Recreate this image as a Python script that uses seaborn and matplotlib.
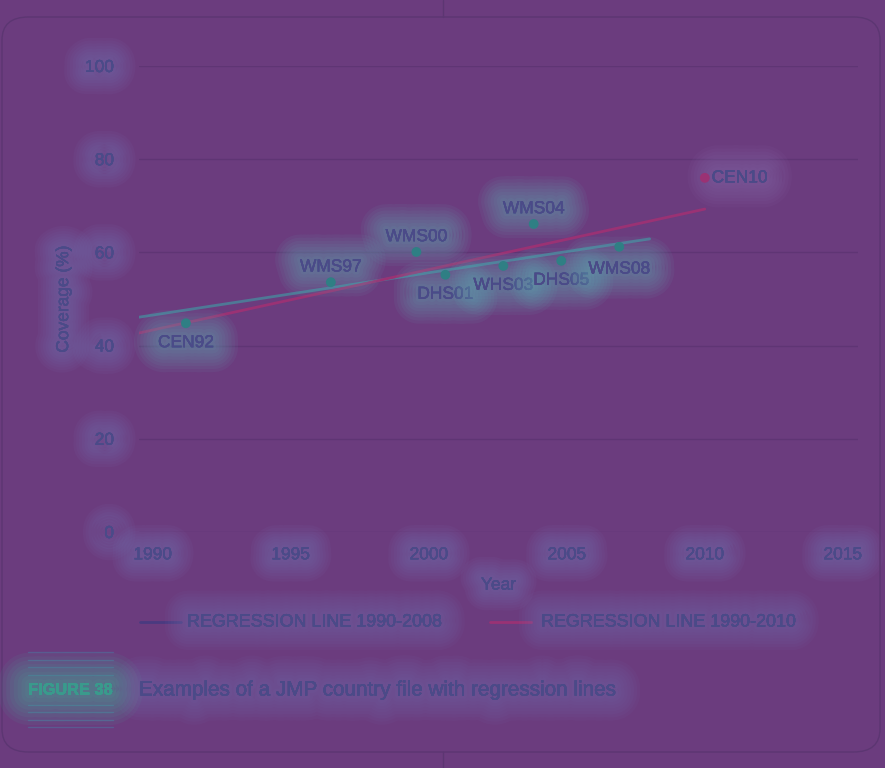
import matplotlib
matplotlib.use("Agg")
import matplotlib.patheffects as pe
import numpy as np
import pandas as pd
import seaborn as sns
from matplotlib import pyplot as plt
from matplotlib.patches import FancyBboxPatch

# Survey points
surveys = ["CEN92", "WMS97", "WMS00", "DHS01", "WHS03", "WMS04", "DHS05", "WMS08", "CEN10"]
years = [1991.2, 1996.45, 1999.55, 2000.6, 2002.7, 2003.8, 2004.8, 2006.9, 2010.0]
coverage = [44.8, 53.6, 60.1, 55.2, 57.1, 66.1, 58.2, 61.2, 76.0]

# Regression line end points
reg_2008_years = [1989.5, 2008.0]
reg_2008_cov = [46.1, 62.9]
reg_2010_years = [1989.5, 2010.0]
reg_2010_cov = [42.7, 69.3]

x_ticks = [1990, 1995, 2000, 2005, 2010, 2015]
y_ticks = [0, 20, 40, 60, 80, 100]

BG = "#6b3c7e"
TXT = "#4b4a88"
GRID = "#5f3574"
C2008 = "#4f7896"
C2010 = "#9a3274"
PT = "#2f7f84"
HALO = "#7a78b8"

sns.set_theme(style="white")
plt.rcParams["font.family"] = ["Liberation Sans", "DejaVu Sans"]


def glow(color, width=22, steps=8, alpha=0.07):
    effects = []
    for i in range(steps):
        w = width * (1 - i / steps)
        effects.append(pe.withStroke(linewidth=w, foreground=color, alpha=alpha))
    effects.append(pe.Normal())
    return effects


fig = plt.figure(figsize=(8.85, 7.68), dpi=100, facecolor=BG)
ax = fig.add_axes([139 / 885, 1 - 532 / 768, 719 / 885, 466 / 768])
ax.set_facecolor(BG)

df = pd.DataFrame({"survey": surveys, "year": years, "coverage": coverage})
df["group"] = np.where(df["survey"] == "CEN10", "new", "old")

sns.lineplot(x=reg_2008_years, y=reg_2008_cov, ax=ax, color=C2008, lw=2)
sns.lineplot(x=reg_2010_years, y=reg_2010_cov, ax=ax, color=C2010, lw=2)
sns.scatterplot(data=df, x="year", y="coverage", hue="group",
                palette={"old": PT, "new": C2010}, s=50, edgecolor="none",
                legend=False, ax=ax, zorder=5)

placement = {
    "CEN92": (0, -14), "WMS97": (0, 11), "WMS00": (0, 11), "DHS01": (0, -14),
    "WHS03": (0, -14), "WMS04": (0, 11), "DHS05": (0, -14), "WMS08": (0, -16),
    "CEN10": (25, 0),
}
for name, x, y in zip(surveys, years, coverage):
    dx, dy = placement[name]
    c = "#5fb0b8" if name != "CEN10" else "#8a70b0"
    ax.annotate(name, (x, y), xytext=(dx, dy), textcoords="offset points",
                ha="center", va="center", fontsize=12.5, color=TXT,
                path_effects=glow(c, width=36, alpha=0.07))

ax.set_xlim(1989.5, 2015.55)
ax.set_ylim(0, 100)
ax.set_xticks(x_ticks)
ax.set_yticks(y_ticks)
ax.grid(axis="y", color=GRID, lw=1)
ax.grid(axis="x", visible=False)
sns.despine(ax=ax, left=True, bottom=True)
ax.tick_params(length=0, labelsize=12.5, labelcolor=TXT)
ax.tick_params(axis="y", pad=18)
ax.tick_params(axis="x", pad=11)
for lab in ax.get_xticklabels() + ax.get_yticklabels():
    lab.set_path_effects(glow(HALO, width=32, alpha=0.07))
ax.set_xlabel("Year", fontsize=12.5, color=TXT, labelpad=11,
              path_effects=glow(HALO, width=30, alpha=0.07))
ax.set_ylabel("Coverage (%)", fontsize=12.5, color=TXT, labelpad=10,
              path_effects=glow(HALO, width=30, alpha=0.07))

# legend
fig.lines.append(plt.Line2D([140 / 885, 181 / 885], [1 - 622 / 768] * 2,
                            transform=fig.transFigure, color="#4a3a80", lw=2))
fig.text(187 / 885, 1 - 622 / 768, "REGRESSION LINE 1990-2008", fontsize=12.9,
         color=TXT, va="center", path_effects=glow(HALO, width=34, alpha=0.06))
fig.lines.append(plt.Line2D([490 / 885, 531 / 885], [1 - 622 / 768] * 2,
                            transform=fig.transFigure, color=C2010, lw=2))
fig.text(541 / 885, 1 - 622 / 768, "REGRESSION LINE 1990-2010", fontsize=12.9,
         color=TXT, va="center", path_effects=glow(HALO, width=34, alpha=0.06))

# caption block
for yy in [652, 659.5, 667, 674.5, 704.5, 712, 719.5, 727]:
    fig.lines.append(plt.Line2D([28 / 885, 113 / 885], [1 - yy / 768] * 2,
                                transform=fig.transFigure, color="#5a5a90", lw=1))
fig.text(28 / 885, 1 - 690 / 768, "FIGURE 38", fontsize=11.8, fontweight="bold",
         color="#3a9a8c", va="center", path_effects=glow("#40c0a0", width=44, alpha=0.07))
fig.text(139 / 885, 1 - 690 / 768, "Examples of a JMP country file with regression lines",
         fontsize=14.9, color=TXT, va="center", path_effects=glow(HALO, width=36, alpha=0.06))

# frame
frame = FancyBboxPatch((2 / 885, 1 - 752 / 768), 878 / 885, 735 / 768,
                       boxstyle="round,pad=0,rounding_size=0.03", transform=fig.transFigure,
                       fill=False, edgecolor="#5c3672", lw=1)
fig.patches.append(frame)
fig.lines.append(plt.Line2D([443 / 885] * 2, [1, 1 - 17 / 768], transform=fig.transFigure,
                            color="#5c3672", lw=1))
fig.lines.append(plt.Line2D([443 / 885] * 2, [1 - 752 / 768, 0], transform=fig.transFigure,
                            color="#5c3672", lw=1))

fig.savefig("out.png", dpi=100, facecolor=BG)
